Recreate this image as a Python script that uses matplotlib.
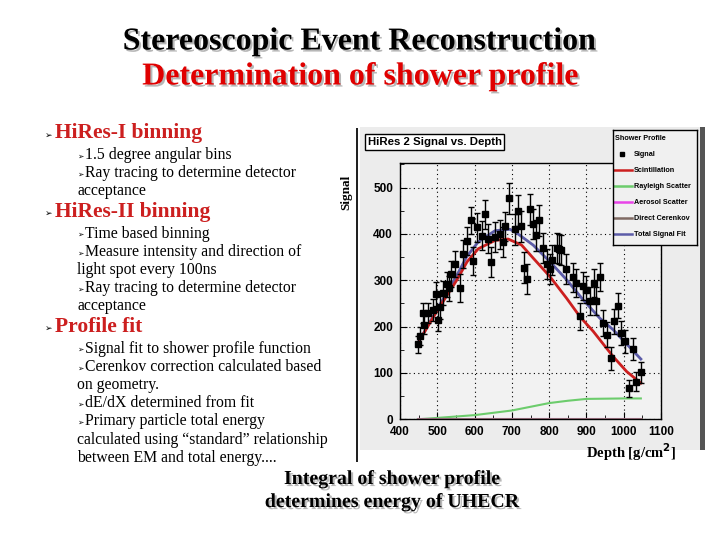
import matplotlib
matplotlib.use("Agg")
import matplotlib.pyplot as plt
import matplotlib.patheffects as pe
from matplotlib.patches import Rectangle
from matplotlib.lines import Line2D

# ---- data ----
depth = [447, 454, 463, 464, 474, 489, 496, 501, 507, 516, 525, 531, 538, 547,
         561, 568, 580, 590, 597, 607, 621, 628, 637, 645, 655, 668, 677, 682,
         692, 708, 717, 724, 732, 740, 748, 757, 766, 773, 784, 795, 802, 809,
         820, 826, 833, 845, 863, 872, 883, 890, 900, 909, 919, 927, 936, 945,
         956, 965, 975, 986, 994, 1003, 1014, 1026, 1033, 1046]
signal = [162, 180, 229, 204, 229, 236, 270, 214, 242, 272, 291, 283, 314, 335,
          284, 356, 385, 429, 342, 414, 396, 442, 390, 339, 394, 399, 383, 416,
          477, 410, 450, 416, 327, 303, 453, 421, 397, 429, 370, 335, 324, 344,
          369, 367, 366, 324, 306, 294, 222, 287, 280, 255, 294, 255, 307, 207,
          182, 132, 212, 245, 186, 168, 67, 152, 81, 101]
signal_err = [18, 20, 22, 20, 22, 24, 26, 24, 26, 26, 27, 27, 28, 28,
              30, 30, 30, 30, 30, 31, 31, 31, 31, 32, 32, 32, 32, 32,
              33, 33, 33, 33, 33, 33, 33, 33, 33, 33, 33, 33, 32, 32,
              32, 32, 32, 32, 31, 31, 30, 30, 30, 30, 30, 30, 30, 28,
              27, 25, 27, 27, 26, 25, 18, 24, 20, 22]

scint_x = [447, 498, 552, 580, 610, 655, 690, 726, 757, 802, 847, 883, 918, 972, 1008, 1046]
scint_y = [163, 232, 300, 340, 368, 386, 389, 376, 348, 308, 261, 221, 190, 135, 103, 78]

total_x = [447, 498, 552, 579, 610, 655, 695, 713, 757, 802, 847, 891, 936, 972, 1046]
total_y = [163, 235, 310, 351, 383, 407, 410, 402, 376, 340, 301, 258, 218, 193, 130]

rayleigh_x = [447, 500, 600, 700, 750, 800, 850, 900, 1000, 1046]
rayleigh_y = [0, 3, 9, 19, 27, 35, 40, 44, 45, 45]

cerenkov_x = [447, 1046]
cerenkov_y = [0, 0]
aerosol_y = [0, 0]

legend_labels = ["Signal", "Scintillation", "Rayleigh Scatter", "Aerosol Scatter",
                 "Direct Cerenkov", "Total Signal Fit"]

bullets = [
    (0, "HiRes-I binning"),
    (1, "1.5 degree angular bins"),
    (1, "Ray tracing to determine detector"),
    (2, "acceptance"),
    (0, "HiRes-II binning"),
    (1, "Time based binning"),
    (1, "Measure intensity and direction of"),
    (2, "light spot every 100ns"),
    (1, "Ray tracing to determine detector"),
    (2, "acceptance"),
    (0, "Profile fit"),
    (1, "Signal fit to shower profile function"),
    (1, "Cerenkov correction calculated based"),
    (2, "on geometry."),
    (1, "dE/dX determined from fit"),
    (1, "Primary particle total energy"),
    (2, "calculated using \u201cstandard\u201d relationship"),
    (2, "between EM and total energy...."),
]

RED = "#cc1f1f"
W, H = 720, 540


def fx(x):
    return x / W


def fy(y):
    return 1 - y / H


fig = plt.figure(figsize=(7.2, 5.4), dpi=100)
fig.patch.set_facecolor("white")

shadow = [pe.SimplePatchShadow(offset=(1.5, -1.5), shadow_rgbFace="#999999", alpha=0.7), pe.Normal()]

# titles
fig.text(fx(360), fy(42), "Stereoscopic Event Reconstruction", ha="center", va="center",
         family="Liberation Serif", weight="bold", fontsize=23, color="black", path_effects=shadow)
fig.text(fx(361), fy(77), "Determination of shower profile", ha="center", va="center",
         family="Liberation Serif", weight="bold", fontsize=23, color="#e00000", path_effects=shadow)

# bullet text on the left
y = 133
for level, txt in bullets:
    if level == 0:
        if y > 133:
            y += 2
        fig.text(fx(45), fy(y + 2), "\u27a2", ha="left", va="center",
                 family="DejaVu Sans", fontsize=6.5, color="black")
        fig.text(fx(55), fy(y), txt, ha="left", va="center",
                 family="Liberation Serif", weight="bold", fontsize=15.5, color=RED)
        y += 22
    else:
        if level == 1:
            fig.text(fx(77), fy(y + 1), "\u27a2", ha="left", va="center",
                     family="DejaVu Sans", fontsize=5.5, color="black")
            fig.text(fx(85), fy(y), txt, ha="left", va="center",
                     family="Liberation Serif", fontsize=11.3, color="black")
        else:
            fig.text(fx(77), fy(y), txt, ha="left", va="center",
                     family="Liberation Serif", fontsize=11.3, color="black")
        y += 18.2

# ROOT canvas background
fig.add_artist(Rectangle((fx(360), fy(450)), fx(340), 323 / H, transform=fig.transFigure,
                         facecolor="#ececec", edgecolor="none", zorder=-2))
fig.add_artist(Rectangle((fx(700), fy(450)), fx(5), 323 / H, transform=fig.transFigure,
                         facecolor="#555555", edgecolor="none", zorder=-2))
fig.add_artist(Rectangle((fx(356), fy(462)), fx(2), 334 / H, transform=fig.transFigure,
                         facecolor="#222222", edgecolor="none", zorder=-2))

# main plot
ax = fig.add_axes([fx(400), fy(419.3), (661 - 400) / W, (419.3 - 163) / H])
ax.set_zorder(2)
ax.set_facecolor("#f2f2f2")
ax.errorbar(depth, signal, yerr=signal_err, fmt="s", color="black", ms=4.5,
            elinewidth=1, capsize=2, capthick=1, zorder=5)
ax.plot(total_x, total_y, color="#5c5ca8", lw=2, zorder=3)
ax.plot(scint_x, scint_y, color="#cc1f1f", lw=2, zorder=4)
ax.plot(rayleigh_x, rayleigh_y, color="#6ccc6c", lw=1.5, zorder=3)
ax.plot(cerenkov_x, aerosol_y, color="#e844e8", lw=1.5, zorder=3)
ax.plot(cerenkov_x, cerenkov_y, color="#7f6a63", lw=2, zorder=3)

ax.set_xlim(400, 1100)
ax.set_ylim(0, 553)
ax.set_xticks(range(400, 1101, 100))
ax.set_yticks(range(0, 501, 100))
ax.set_xticks(range(450, 1100, 100), minor=True)
ax.set_yticks(range(50, 551, 100), minor=True)
ax.grid(True, which="major", linestyle=(0, (1, 3)), color="black", lw=0.8)
ax.tick_params(which="both", direction="in", top=False, right=False)
ax.tick_params(which="major", length=5)
ax.tick_params(axis="x", which="major", pad=5)
ax.tick_params(axis="y", which="major", pad=5)
ax.tick_params(which="minor", length=3)
for lab in ax.get_xticklabels() + ax.get_yticklabels():
    lab.set_family("Liberation Sans")
    lab.set_weight("bold")
    lab.set_fontsize(8.5)
for sp in ax.spines.values():
    sp.set_linewidth(1)

# title box
fig.text(fx(434.5), fy(142), "HiRes 2 Signal vs. Depth", ha="center", va="center",
         family="Liberation Sans", weight="bold", fontsize=8.2, color="black", zorder=5,
         bbox=dict(boxstyle="square,pad=0.25", facecolor="white", edgecolor="black", lw=1))

# legend box
lax = fig.add_axes([fx(613), fy(245), (697 - 613) / W, (245 - 130) / H])
lax.set_zorder(3)
lax.set_xlim(613, 697)
lax.set_ylim(245, 130)
lax.set_facecolor("#f0f0f0")
lax.set_xticks([])
lax.set_yticks([])
for sp in lax.spines.values():
    sp.set_linewidth(1)
lax.text(615, 138, "Shower Profile", ha="left", va="center", family="Liberation Sans",
         weight="bold", fontsize=5.2)
key_colors = [None, "#cc1f1f", "#6ccc6c", "#e844e8", "#7f6a63", "#5c5ca8"]
for i, (lab, col) in enumerate(zip(legend_labels, key_colors)):
    yy = 154 + 16 * i
    if col is None:
        lax.plot([622], [yy], "s", color="black", ms=3.5)
    else:
        lax.add_line(Line2D([614, 632], [yy, yy], color=col, lw=1.8))
    lax.text(634, yy, lab, ha="left", va="center", family="Liberation Sans",
             weight="bold", fontsize=5.2)

# axis titles
fig.text(fx(346), fy(192), "Signal", rotation=90, ha="center", va="center",
         family="Liberation Serif", weight="bold", fontsize=9.5)
fig.text(fx(631), fy(452), "Depth [g/cm$^{\\mathbf{2}}$]", ha="center", va="center",
         family="Liberation Serif", weight="bold", fontsize=10.5)

# bottom note
fig.text(fx(392), fy(479), "Integral of shower profile", ha="center", va="center",
         family="Liberation Serif", weight="bold", fontsize=14.3, path_effects=shadow)
fig.text(fx(392), fy(502), "determines energy of UHECR", ha="center", va="center",
         family="Liberation Serif", weight="bold", fontsize=14.3, path_effects=shadow)

fig.savefig("out.png", dpi=100)
